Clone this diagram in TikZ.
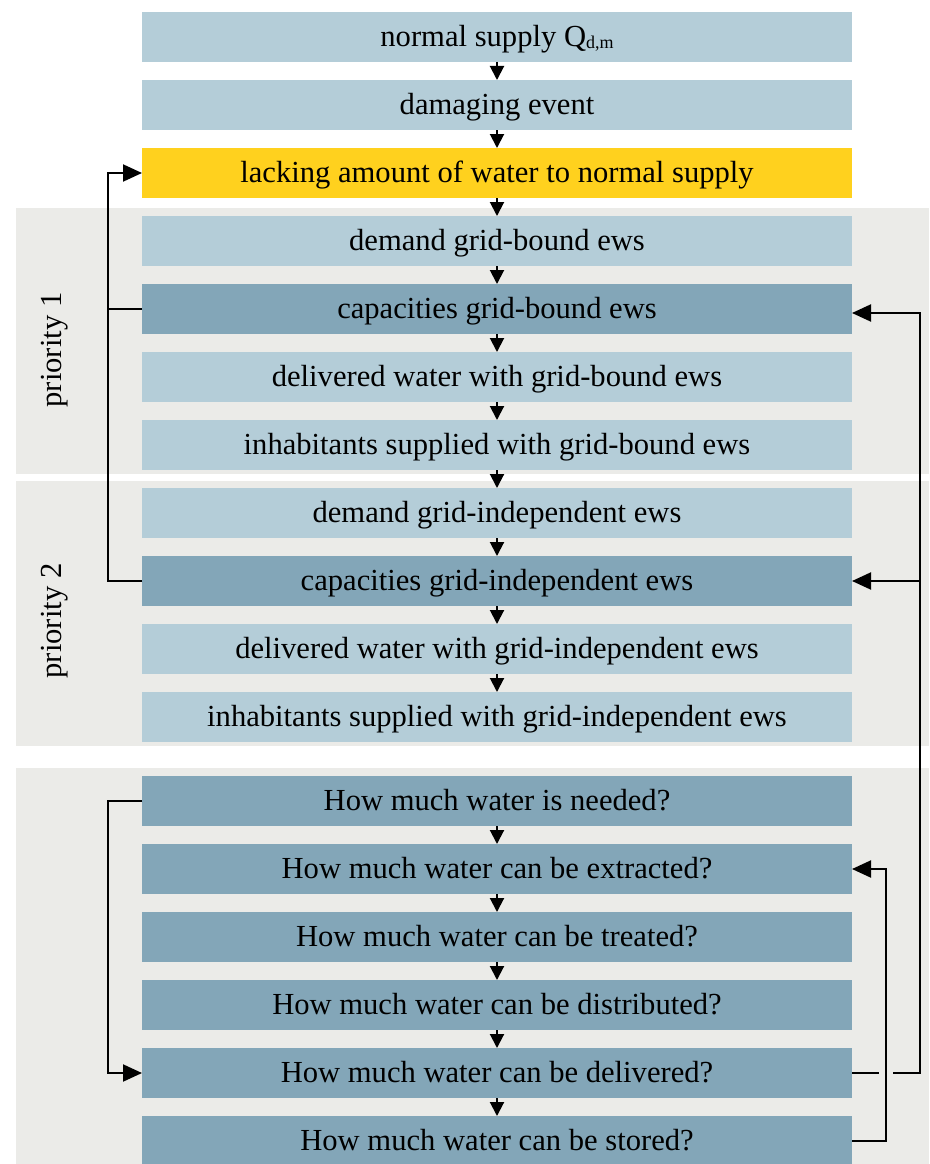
\documentclass[tikz,border=0pt]{standalone}
\usepackage{fontspec}
\setmainfont{Liberation Serif}
\usepackage{tikz}
\usetikzlibrary{arrows.meta,positioning,calc}
\definecolor{boxlight}{RGB}{180,205,216}
\definecolor{boxdark}{RGB}{131,166,184}
\definecolor{boxyellow}{RGB}{255,209,30}
\definecolor{panelgray}{RGB}{235,235,232}
\tikzset{
  box/.style      ={align=center,minimum width=710pt,minimum height=50pt,inner sep=0pt,outer sep=0pt,
                    text height=25pt,text depth=6.4pt,font=\fontsize{30.6}{36}\selectfont},
  lightbox/.style ={box,fill=boxlight},
  darkbox/.style  ={box,fill=boxdark},
  alertbox/.style ={box,fill=boxyellow},
  prio/.style     ={rotate=90,font=\fontsize{30.6}{36}\selectfont},
  flow/.style     ={-{Triangle[length=14pt,width=14pt]},line width=2pt},
  conn/.style     ={-{Triangle[length=19pt,width=17pt]},line width=2pt},
  link/.style     ={line width=2pt}
}

\begin{document}
\begin{tikzpicture}[x=1pt,y=-1pt,node distance=18pt]
    \useasboundingbox (0,0) rectangle (929,1164);
    % grey panels
    \fill[panelgray] (16,208) rectangle (929,474);
    \fill[panelgray] (16,481) rectangle (929,746);
    \fill[panelgray] (16,768) rectangle (929,1164);
    \node[prio] (prio1) at (55,350) {priority 1};
    \node[prio] (prio2) at (55,621) {priority 2};

    \node[lightbox] (supply) at (497,37) {normal supply Q\raisebox{-0.15ex}{\fontsize{18}{18}\selectfont d,m}};
    \node[lightbox, below=of supply]  (event)   {damaging event};
    \node[alertbox, below=of event]   (lacking) {lacking amount of water to normal supply};
    \node[lightbox, below=of lacking] (demA)    {demand grid-bound ews};
    \node[darkbox,  below=of demA]    (capA)    {capacities grid-bound ews};
    \node[lightbox, below=of capA]    (delA)    {delivered water with grid-bound ews};
    \node[lightbox, below=of delA]    (inhA)    {inhabitants supplied with grid-bound ews};
    \node[lightbox, below=of inhA]    (demB)    {demand grid-independent ews};
    \node[darkbox,  below=of demB]    (capB)    {capacities grid-independent ews};
    \node[lightbox, below=of capB]    (delB)    {delivered water with grid-independent ews};
    \node[lightbox, below=of delB]    (inhB)    {inhabitants supplied with grid-independent ews};
    \node[darkbox, below=34pt of inhB]    (needed)      {How much water is needed?};
    \node[darkbox, below=of needed]       (extracted)   {How much water can be extracted?};
    \node[darkbox, below=of extracted]    (treated)     {How much water can be treated?};
    \node[darkbox, below=of treated]      (distributed) {How much water can be distributed?};
    \node[darkbox, below=of distributed]  (delivered)   {How much water can be delivered?};
    \node[darkbox, below=of delivered]    (stored)      {How much water can be stored?};

    \foreach \a/\b in {supply/event,event/lacking,lacking/demA,demA/capA,capA/delA,delA/inhA,
                       inhA/demB,demB/capB,capB/delB,delB/inhB,needed/extracted,
                       extracted/treated,treated/distributed,distributed/delivered,delivered/stored}
      \draw[flow] (\a.south) -- (\b.north);

    % feedback lines
    \coordinate (leftbus)  at (108,0);
    \coordinate (innerbus) at (886,0);
    \coordinate (rightbus) at (920,0);
    \draw[conn] (capB.west) -- (capB.west -| leftbus) |- (lacking.west);
    \draw[link] (capA.west) -- (capA.west -| leftbus);
    \draw[conn] (needed.west) -- (needed.west -| leftbus) |- (delivered.west);
    \draw[conn] (stored.east) -- (stored.east -| innerbus) |- (extracted.east);
    \draw[link] (delivered.east) -- ($(delivered.east -| innerbus)+(-7,0)$);
    \draw[conn] ($(delivered.east -| innerbus)+(7,0)$) -- (delivered.east -| rightbus) |- ($(capA.east)+(0,4)$);
    \draw[conn] ($(capB.east -| rightbus)$) -- (capB.east);
  \end{tikzpicture}
\end{document}
